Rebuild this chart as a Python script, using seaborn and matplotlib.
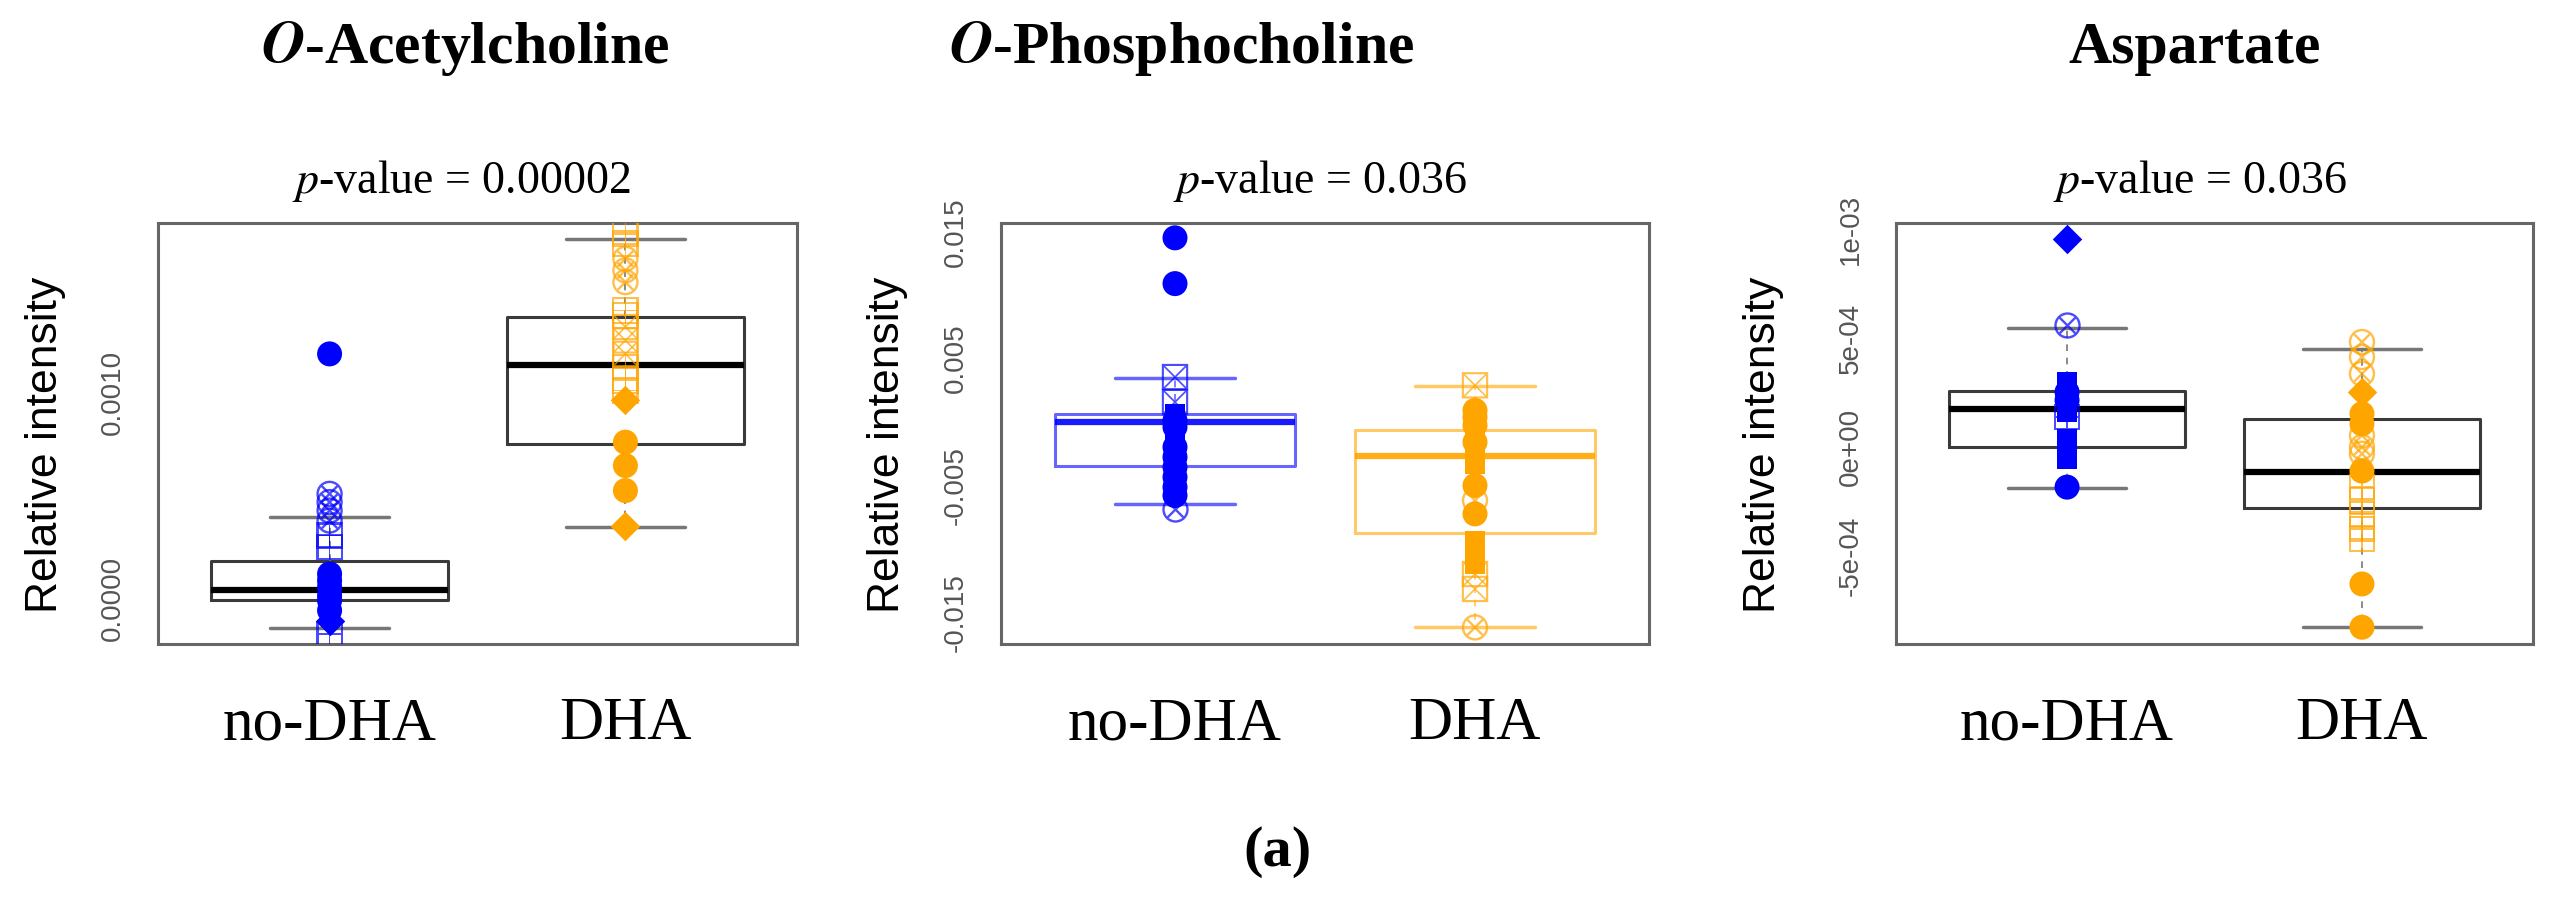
import matplotlib

matplotlib.use("Agg")
import matplotlib.pyplot as plt
import pandas as pd
import seaborn as sns

W, H = 2555, 918

GROUPS = ["no-DHA", "DHA"]
COLORS = {"no-DHA": "#0000FF", "DHA": "#FFA500"}

TITLES = [r"$\mathbfit{O}$-Acetylcholine", r"$\mathbfit{O}$-Phosphocholine", "Aspartate"]
P_VALUES = ["0.00002", "0.036", "0.036"]

# marker kinds: dot = filled circle, dia = filled diamond, sqf = filled square,
# sqp = square with plus, cix = circle with x, sqt = square with cross
MARKERS = {"dot": "o", "dia": "D", "sqf": "s",
           "sqp": r"$\boxplus$", "cix": r"$\otimes$", "sqt": r"$\boxtimes$"}
MARKER_SIZE = {"dot": 18, "dia": 15, "sqf": 14, "sqp": 19, "cix": 19, "sqt": 19}
OPEN_KINDS = {"sqp", "cix", "sqt"}

# O-Acetylcholine
ACH_NODHA_VALUES = [0.001185, 0.000508, 0.000468, 0.000427, 0.000379, 0.000306, 0.00025,
                    0.000121, 0.0000887, 0.0000565, 0.000016, -0.000008, -0.000056,
                    -0.000105, -0.000169]
ACH_NODHA_MARKS = ["dot", "cix", "cix", "cix", "cix", "sqp", "sqp",
                   "dot", "dot", "dot", "dot", "dot", "dot", "dia", "sqp"]
ACH_DHA_VALUES = [0.001766, 0.001718, 0.001645, 0.001589, 0.001532, 0.001395, 0.001371,
                  0.001315, 0.00125, 0.001185, 0.001121, 0.001056, 0.001008, 0.00096,
                  0.000758, 0.000645, 0.000524, 0.00035]
ACH_DHA_MARKS = ["sqp", "sqp", "cix", "cix", "cix", "sqp", "sqp", "sqt", "sqt", "sqt",
                 "sqp", "sqp", "sqp", "dia", "dot", "dot", "dot", "dia"]
# whislo, q1, median, q3, whishi
ACH_BOX_NODHA = [-0.000139, -0.000003, 0.0000435, 0.000181, 0.000395]
ACH_BOX_DHA = [0.00035, 0.00075, 0.001132, 0.001363, 0.001739]

# O-Phosphocholine
PCH_NODHA_VALUES = [0.01453, 0.01092, 0.00355, 0.00158, 0.00066, 0.00013, -0.00039, -0.00092,
                    -0.00197, -0.00276, -0.00355, -0.00434, -0.00513, -0.00579, -0.00684]
PCH_NODHA_MARKS = ["dot", "dot", "sqt", "sqt", "sqf", "dot", "dot", "sqf",
                   "dot", "dot", "dot", "dot", "dot", "dot", "cix"]
PCH_DHA_VALUES = [0.0029, 0.00092, 0.00039, -0.00026, -0.00092, -0.00158, -0.0025, -0.00329,
                  -0.005, -0.00618, -0.00724, -0.00934, -0.0104, -0.0112, -0.01198,
                  -0.01316, -0.01619]
PCH_DHA_MARKS = ["sqt", "dot", "dot", "dot", "sqf", "dot", "sqf", "sqf", "dot", "cix",
                 "dot", "sqf", "sqf", "sqf", "sqt", "sqt", "cix"]
PCH_BOX_NODHA = [-0.00645, -0.0035, 0.0, 0.00066, 0.0035]
PCH_BOX_DHA = [-0.01618, -0.00876, -0.00271, -0.00066, 0.00284]

# Aspartate
ASP_NODHA_VALUES = [0.000956, 0.00056, 0.000299, 0.000253, 0.000215, 0.000161, 0.000138,
                    0.0000384, -0.0000077, -0.0000537, -0.000184]
ASP_NODHA_MARKS = ["dia", "cix", "sqf", "dot", "dot", "sqf", "sqp", "sqf", "sqf", "sqf", "dot"]
ASP_DHA_VALUES = [0.000483, 0.000414, 0.000337, 0.000253, 0.000153, 0.000107, 0.0000537,
                  0.0, -0.0000307, -0.00011, -0.000184, -0.000245, -0.000307, -0.000376,
                  -0.000422, -0.000629, -0.000828]
ASP_DHA_MARKS = ["cix", "cix", "cix", "dia", "dot", "dot", "cix", "cix", "cix", "dot",
                 "sqp", "sqp", "sqp", "sqp", "sqp", "dot", "dot"]
ASP_BOX_NODHA = [-0.000187, 0.0, 0.000173, 0.000256, 0.000549]
ASP_BOX_DHA = [-0.000828, -0.000279, -0.000115, 0.00013, 0.000452]

YLIMS = [(-0.000218, 0.001818), (-0.0175, 0.0157), (-0.000905, 0.00103)]
YTICKS = [[0.0, 0.0005, 0.001, 0.0015],
          [-0.015, -0.01, -0.005, 0.0, 0.005, 0.01, 0.015],
          [-0.0005, 0.0, 0.0005, 0.001]]
YTICKLABELS = [["0.0000", "", "0.0010", ""],
               ["-0.015", "", "-0.005", "", "0.005", "", "0.015"],
               ["-5e-04", "0e+00", "5e-04", "1e-03"]]

# layout in pixels: axes left / right, title centre, p-value centre, ylabel x
AX_LEFT = [158, 1001, 1896]
AX_RIGHT = [797, 1649, 2533]
AX_TOP, AX_BOTTOM = 223, 644
TITLE_X = [465, 1182, 2195]
PVAL_X = [461, 1320, 2200]
YLABEL_X = [46, 887, 1763]

SERIF = ["Liberation Serif", "DejaVu Serif"]
SANS = ["Liberation Sans Narrow", "Liberation Sans", "DejaVu Sans"]

sns.set_style("white")
plt.rcParams["mathtext.fontset"] = "stix"
plt.rcParams["font.family"] = SANS
plt.rcParams["text.color"] = "black"


def draw_panel(ax, nodha_vals, nodha_marks, dha_vals, dha_marks, box_nodha, box_dha,
               ylim, yticks, yticklabels, colored_boxes):
    df = pd.DataFrame({
        "group": ["no-DHA"] * len(nodha_vals) + ["DHA"] * len(dha_vals),
        "value": nodha_vals + dha_vals,
        "mark": nodha_marks + dha_marks,
    })
    for kind, sub in df.groupby("mark"):
        sns.stripplot(data=sub, x="group", y="value", order=GROUPS, hue="group",
                      hue_order=GROUPS, palette=COLORS, marker=MARKERS[kind],
                      size=MARKER_SIZE[kind], jitter=False, linewidth=0,
                      alpha=0.7 if kind in OPEN_KINDS else 1.0,
                      legend=False, ax=ax, zorder=3)

    for pos, (group, box) in enumerate(zip(GROUPS, [box_nodha, box_dha])):
        lo, q1, med, q3, hi = box
        stats = [dict(label=group, whislo=lo, q1=q1, med=med, q3=q3, whishi=hi, fliers=[])]
        if colored_boxes:
            edge = COLORS[group]
            med_color = COLORS[group]
            cap_color = COLORS[group]
            alpha = 0.6
        else:
            edge = "#3a3a3a"
            med_color = "black"
            cap_color = "#777777"
            alpha = 1.0
        ax.bxp(stats, positions=[pos], widths=0.8, capwidths=0.4, showfliers=False,
               manage_ticks=False,
               boxprops=dict(color=edge, linewidth=2.2, alpha=alpha),
               medianprops=dict(color=med_color, linewidth=4.5, alpha=min(1.0, alpha + 0.3)),
               whiskerprops=dict(color=cap_color, linewidth=1.2, linestyle=(0, (4, 4)),
                                 alpha=alpha),
               capprops=dict(color=cap_color, linewidth=2.5, alpha=alpha))

    ax.set_xlim(-0.58, 1.58)
    ax.set_ylim(*ylim)
    ax.set_xticks([0, 1])
    ax.set_xticklabels(GROUPS, fontsize=44, family=SERIF, color="black")
    ax.set_yticks(yticks)
    ax.set_yticklabels(yticklabels, rotation=90, va="center", fontsize=20,
                       color="#555555", family=SANS)
    ax.set_xlabel("")
    ax.set_ylabel("")
    ax.tick_params(axis="both", direction="out", length=12, width=1.6, color="#666666")
    ax.tick_params(axis="x", length=9, pad=29)
    ax.tick_params(axis="y", pad=11)
    for spine in ax.spines.values():
        spine.set_visible(True)
        spine.set_color("#666666")
        spine.set_linewidth(2.2)


def main():
    fig = plt.figure(figsize=(W / 100, H / 100), dpi=100)
    fig.patch.set_facecolor("white")

    panels = [
        (ACH_NODHA_VALUES, ACH_NODHA_MARKS, ACH_DHA_VALUES, ACH_DHA_MARKS,
         ACH_BOX_NODHA, ACH_BOX_DHA, False),
        (PCH_NODHA_VALUES, PCH_NODHA_MARKS, PCH_DHA_VALUES, PCH_DHA_MARKS,
         PCH_BOX_NODHA, PCH_BOX_DHA, True),
        (ASP_NODHA_VALUES, ASP_NODHA_MARKS, ASP_DHA_VALUES, ASP_DHA_MARKS,
         ASP_BOX_NODHA, ASP_BOX_DHA, False),
    ]

    for i, panel in enumerate(panels):
        left = AX_LEFT[i] / W
        width = (AX_RIGHT[i] - AX_LEFT[i]) / W
        bottom = 1 - AX_BOTTOM / H
        height = (AX_BOTTOM - AX_TOP) / H
        ax = fig.add_axes([left, bottom, width, height])
        draw_panel(ax, *panel[:6], YLIMS[i], YTICKS[i], YTICKLABELS[i], panel[6])

        fig.text(TITLE_X[i] / W, 1 - 63 / H, TITLES[i], ha="center", va="baseline",
                 fontsize=43, fontweight="bold", family=SERIF, color="black")
        fig.text(PVAL_X[i] / W, 1 - 193 / H, r"$\mathit{p}$-value = " + P_VALUES[i],
                 ha="center", va="baseline", fontsize=33, family=SERIF, color="black")
        fig.text(YLABEL_X[i] / W, 1 - 445 / H, "Relative intensity", rotation=90,
                 ha="center", va="center", fontsize=32, family=SANS, color="black")

    fig.text(1278 / W, 1 - 852 / H, "(a)", ha="center", va="center", fontsize=42,
             fontweight="bold", family=SERIF, color="black")

    fig.savefig("out.png", dpi=100, facecolor="white")
    plt.close(fig)


if __name__ == "__main__":
    main()
